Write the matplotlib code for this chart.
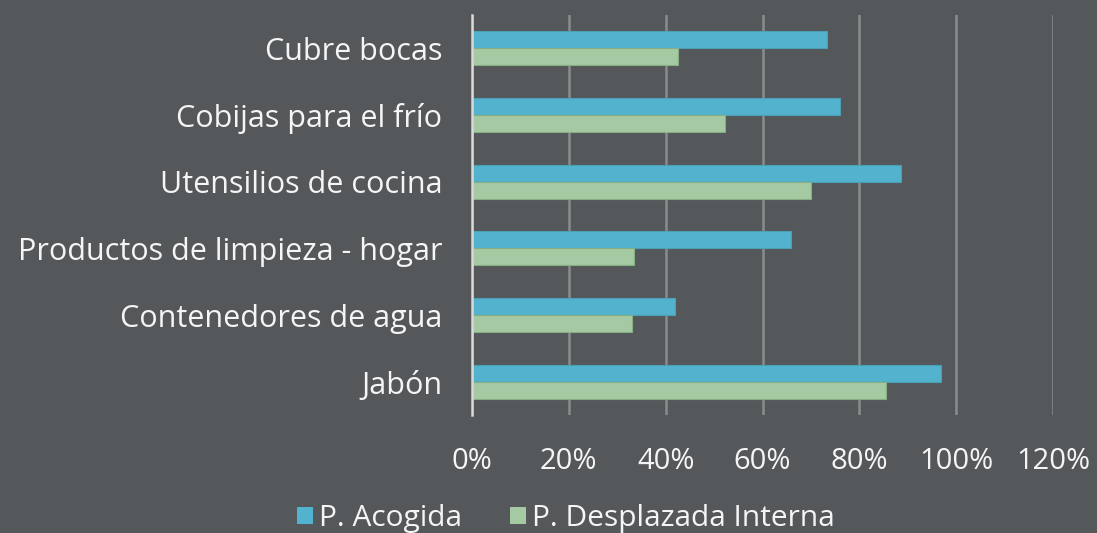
import matplotlib
matplotlib.use("Agg")
import matplotlib.pyplot as plt
import numpy as np
from matplotlib.ticker import FuncFormatter

categories = ["Jabón", "Contenedores de agua", "Productos de limpieza - hogar",
              "Utensilios de cocina", "Cobijas para el frío", "Cubre bocas"]
acogida = [96.9, 42.0, 65.8, 88.6, 76.1, 73.3]
desplazada = [85.5, 33.0, 33.5, 70.0, 52.2, 42.6]
series_names = ["P. Acogida", "P. Desplazada Interna"]
xticks = [0, 20, 40, 60, 80, 100, 120]

bg = "#54585a"
blue = "#53b2cd"
green = "#a5c9a2"
txt = "#f5f5f5"

plt.rcParams['font.family'] = ['Open Sans', 'DejaVu Sans']

fig = plt.figure(figsize=(10.97, 5.33), dpi=100, facecolor=bg)
ax = fig.add_axes([0.4303, 0.2206, 0.5296, 0.752])
ax.set_facecolor(bg)

y = np.arange(len(categories))
h = 0.255
ax.barh(y + h/2, acogida, height=h, color=blue, edgecolor="#4b9fb6", linewidth=0.8,
        label=series_names[0], zorder=3)
ax.barh(y - h/2, desplazada, height=h, color=green, edgecolor="#86ad84", linewidth=0.8,
        label=series_names[1], zorder=3)

ax.set_xlim(0, 120)
ax.set_ylim(-0.5, len(categories) - 0.5)
ax.set_xticks(xticks)
ax.xaxis.set_major_formatter(FuncFormatter(lambda v, p: f"{int(v)}%"))
ax.set_yticks(y)
ax.set_yticklabels(categories)
ax.grid(axis='x', color="#8a8c8d", linewidth=1.8, zorder=0)
ax.set_axisbelow(True)
for s in ["top", "right", "bottom"]:
    ax.spines[s].set_visible(False)
ax.spines["left"].set_color("#d9d9d9")
ax.spines["left"].set_linewidth(1.8)
ax.spines["left"].set_zorder(4)
ax.tick_params(axis='both', length=0, colors=txt)
ax.tick_params(axis='y', pad=21.5, labelsize=22)
ax.tick_params(axis='x', pad=23, labelsize=21)

leg = fig.legend(loc="center", bbox_to_anchor=(0.516, 0.027), ncol=2, frameon=False,
                 fontsize=21.5, handlelength=0.53, handleheight=0.53, handletextpad=0.2,
                 columnspacing=1.6, labelcolor=txt)
for hdl in leg.legend_handles:
    hdl.set_edgecolor("none")

fig.savefig("out.png", dpi=100, facecolor=bg)
